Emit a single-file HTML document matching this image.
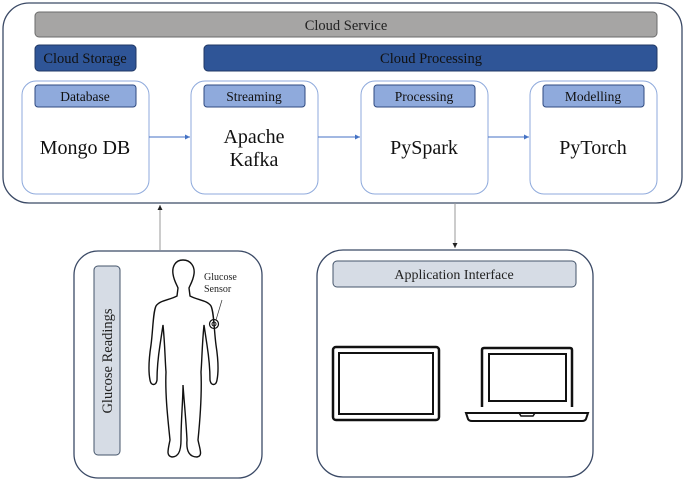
<!DOCTYPE html>
<html><head><style>
body{margin:0;background:#fff;}
svg text{font-family:"Liberation Serif",serif;}
</style></head><body>
<svg width="685" height="482" viewBox="0 0 685 482" xmlns="http://www.w3.org/2000/svg">
<defs>
<marker id="ab" markerWidth="6" markerHeight="6" refX="5" refY="3" orient="auto"><path d="M0,0.5 L5,3 L0,5.5z" fill="#4472c4"/></marker>
<marker id="ak" markerWidth="6" markerHeight="6" refX="5" refY="3" orient="auto"><path d="M0,0.5 L5,3 L0,5.5z" fill="#222"/></marker>
</defs>
<rect x="3" y="3" width="679" height="200" rx="26" fill="#fff" stroke="#3b4a66" stroke-width="1.3"/>
<rect x="35" y="12" width="622" height="25" rx="4" fill="#a6a5a4" stroke="#6b6b6b"/>
<text x="346" y="30" font-size="14.5" text-anchor="middle" fill="#222">Cloud Service</text>
<rect x="35" y="45" width="101" height="26" rx="4" fill="#2f5597" stroke="#203864"/>
<text x="85" y="63" font-size="14.5" text-anchor="middle" fill="#111">Cloud Storage</text>
<rect x="204" y="45" width="453" height="26" rx="4" fill="#2f5597" stroke="#203864"/>
<text x="431" y="63" font-size="14.5" text-anchor="middle" fill="#111">Cloud Processing</text>
<g stroke="#8faadc" fill="#fff" stroke-width="1">
<rect x="22" y="81" width="127" height="113" rx="14"/>
<rect x="191" y="81" width="127" height="113" rx="14"/>
<rect x="361" y="81" width="127" height="113" rx="14"/>
<rect x="530" y="81" width="127" height="113" rx="14"/>
</g>
<g fill="#8faadc" stroke="#2f4a80">
<rect x="35" y="85" width="101" height="22" rx="3"/>
<rect x="204" y="85" width="101" height="22" rx="3"/>
<rect x="374" y="85" width="101" height="22" rx="3"/>
<rect x="543" y="85" width="101" height="22" rx="3"/>
</g>
<g font-size="13.5" text-anchor="middle" fill="#111">
<text x="85" y="101">Database</text><text x="254" y="101">Streaming</text>
<text x="424" y="101">Processing</text><text x="593" y="101">Modelling</text>
</g>
<g font-size="20" text-anchor="middle" fill="#111">
<text x="85" y="154">Mongo DB</text>
<text x="254" y="143">Apache</text><text x="254" y="166">Kafka</text>
<text x="424" y="154">PySpark</text><text x="593" y="154">PyTorch</text>
</g>
<g stroke="#4472c4" stroke-width="1" marker-end="url(#ab)">
<line x1="149" y1="137" x2="190" y2="137"/>
<line x1="318" y1="137" x2="360" y2="137"/>
<line x1="488" y1="137" x2="529" y2="137"/>
</g>
<line x1="160" y1="250" x2="160" y2="205" stroke="#999" marker-end="url(#ak)"/>
<line x1="455" y1="203" x2="455" y2="248" stroke="#999" marker-end="url(#ak)"/>
<rect x="74" y="251" width="188" height="227" rx="24" fill="#fff" stroke="#3b4a66" stroke-width="1.3"/>
<rect x="94" y="266" width="26" height="189" rx="4" fill="#d6dce5" stroke="#44546a"/>
<text transform="translate(112,361) rotate(-90)" font-size="14.5" text-anchor="middle" fill="#222">Glucose Readings</text>
<path d="M183,260 C175,260 172,267 173,274 C174,281 177,285 178,288 L177,296 C170,300 160,300 156,306 C153,312 153,330 151,345 C149,358 148,370 150,380 C151,386 156,386 157,380 C157,370 158,358 160,345 L163,325 C165,345 165,360 166,372 C165,395 168,420 170,440 C168,450 166,456 172,457 C178,457 181,452 181,440 C181,420 183,400 183,385 C184,400 186,420 187,440 C186,452 190,457 197,457 C203,456 200,450 198,440 C200,420 202,395 201,372 C202,360 202,345 204,325 L207,345 C209,358 210,370 210,380 C211,386 216,386 217,380 C219,370 218,358 216,345 C214,330 214,312 211,306 C207,300 197,300 190,296 L189,288 C190,285 193,281 194,274 C195,267 191,260 183,260 Z" fill="#fff" stroke="#111" stroke-width="1.4"/>
<circle cx="214" cy="324" r="4.5" fill="none" stroke="#111" stroke-width="1.2"/>
<circle cx="214" cy="324" r="2" fill="none" stroke="#111" stroke-width="1"/>
<line x1="216" y1="320" x2="222" y2="300" stroke="#333" stroke-width="0.7"/>
<text x="204" y="280" font-size="10" fill="#222">Glucose</text>
<text x="204" y="292" font-size="10" fill="#222">Sensor</text>
<rect x="317" y="250" width="276" height="227" rx="26" fill="#fff" stroke="#3b4a66" stroke-width="1.3"/>
<rect x="333" y="261" width="243" height="26" rx="4" fill="#d6dce5" stroke="#44546a"/>
<text x="454" y="279" font-size="14" text-anchor="middle" fill="#222">Application Interface</text>
<rect x="333" y="347" width="106" height="73" rx="3" fill="none" stroke="#111" stroke-width="2.5"/>
<rect x="339" y="353" width="94" height="61" fill="none" stroke="#111" stroke-width="2"/>
<path d="M482,407 L482,350 Q482,348 484,348 L570,348 Q572,348 572,350 L572,407" fill="none" stroke="#111" stroke-width="2.5"/>
<rect x="489" y="354" width="77" height="47" fill="none" stroke="#111" stroke-width="2"/>
<path d="M466,413 L588,413 L586,419 Q585,421 582,421 L472,421 Q469,421 468,419 Z" fill="none" stroke="#111" stroke-width="2"/>
<path d="M519,413 L521,416 L533,416 L535,413" fill="none" stroke="#111" stroke-width="1.5"/>
</svg>
</body></html>
